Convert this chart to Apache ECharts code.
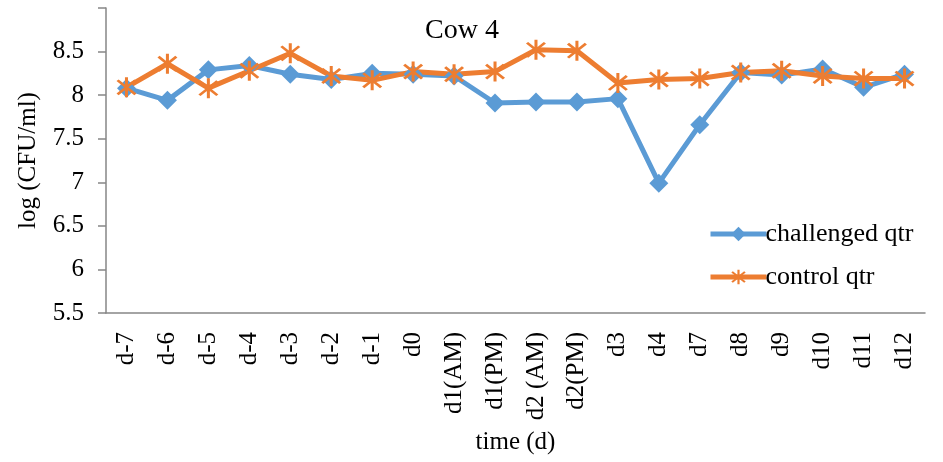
<!DOCTYPE html>
<html>
<head>
<meta charset="utf-8">
<script src="https://cdn.jsdelivr.net/npm/echarts@6/dist/echarts.min.js"></script>
<style>html,body{margin:0;padding:0;background:#fff}#c{width:943px;height:462px}</style>
</head>
<body>
<div id="c"></div>
<script>
const categories = ['d-7','d-6','d-5','d-4','d-3','d-2','d-1','d0','d1(AM)','d1(PM)','d2 (AM)','d2(PM)','d3','d4','d7','d8','d9','d10','d11','d12'];
const challenged = [8.08,7.94,8.29,8.34,8.24,8.18,8.25,8.24,8.22,7.91,7.92,7.92,7.96,6.99,7.66,8.26,8.23,8.30,8.09,8.24];
const control = [8.09,8.36,8.08,8.28,8.48,8.22,8.17,8.27,8.24,8.27,8.52,8.51,8.14,8.18,8.19,8.26,8.28,8.22,8.19,8.19];
const yTicks = ['5.5','6','6.5','7','7.5','8','8.5'];

function starPath() {
  const L = 10, t = 1.2;
  let p = '';
  [90, 45, -45].forEach(a => {
    const r = a * Math.PI / 180;
    const ux = Math.cos(r), uy = Math.sin(r);
    const vx = -uy, vy = ux;
    const pts = [
      [ -L*ux - t*vx, -L*uy - t*vy ],
      [  L*ux - t*vx,  L*uy - t*vy ],
      [  L*ux + t*vx,  L*uy + t*vy ],
      [ -L*ux + t*vx, -L*uy + t*vy ]
    ];
    p += 'M' + pts.map(q => q[0].toFixed(3) + ' ' + q[1].toFixed(3)).join(' L') + ' Z ';
  });
  return 'path://' + p;
}

const font = 'Liberation Serif';
const axisColor = '#868686';
const chart = echarts.init(document.getElementById('c'));
chart.setOption({
  animation: false,
  title: {
    text: 'Cow 4', left: 420, top: 12,
    textStyle: { fontFamily: font, fontSize: 28, fontWeight: 'normal', color: '#000' }
  },
  legend: {
    orient: 'vertical', left: 703, top: 216, itemWidth: 56, itemHeight: 18, itemGap: 17,
    lineStyle: { width: 5 },
    textStyle: { fontFamily: font, fontSize: 26, color: '#000', padding: [0,0,0,-6] },
    data: ['challenged qtr', 'control qtr']
  },
  grid: { left: 106, right: 18, top: 8, bottom: 149, containLabel: false },
  xAxis: {
    type: 'category', data: categories, boundaryGap: true,
    name: 'time (d)', nameLocation: 'middle', nameGap: 117,
    nameTextStyle: { fontFamily: font, fontSize: 25, color: '#000' },
    axisLine: { lineStyle: { color: axisColor, width: 1.5 } },
    axisTick: { alignWithLabel: false, length: 7, lineStyle: { color: axisColor, width: 1.5 } },
    axisLabel: { rotate: 90, margin: 19, interval: 0, fontFamily: font, fontSize: 25, color: '#000' }
  },
  yAxis: {
    type: 'value', min: 5.5, max: 9, interval: 0.5,
    name: 'log (CFU/ml)', nameLocation: 'middle', nameGap: 65, nameRotate: 90,
    nameTextStyle: { fontFamily: font, fontSize: 25, color: '#000' },
    axisLine: { show: true, lineStyle: { color: axisColor, width: 1.5 } },
    axisTick: { show: true, length: 8, lineStyle: { color: axisColor, width: 1.5 } },
    splitLine: { show: false },
    axisLabel: {
      margin: 22, fontFamily: font, fontSize: 25, color: '#000',
      formatter: v => { const s = String(v); return yTicks.indexOf(s) >= 0 ? s : ''; }
    }
  },
  series: [
    {
      name: 'challenged qtr', type: 'line', data: challenged,
      symbol: 'diamond', symbolSize: 19,
      lineStyle: { color: '#5B9BD5', width: 5 },
      itemStyle: { color: '#5B9BD5' }
    },
    {
      name: 'control qtr', type: 'line', data: control,
      symbol: starPath(), symbolSize: 20,
      lineStyle: { color: '#ED7D31', width: 5 },
      itemStyle: { color: '#ED7D31' }
    }
  ]
});
</script>
</body>
</html>
